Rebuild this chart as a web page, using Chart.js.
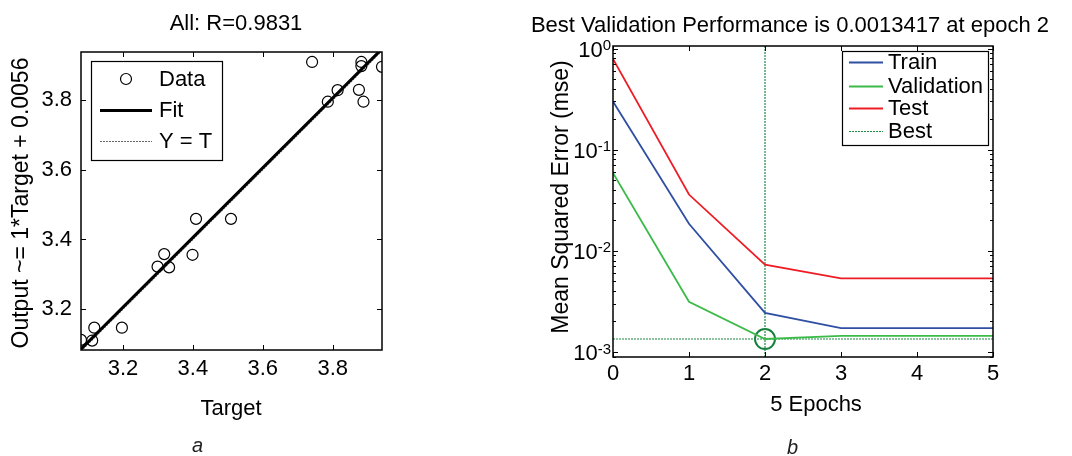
<!DOCTYPE html>
<html>
<head>
<meta charset="utf-8">
<script src="https://cdn.jsdelivr.net/npm/chart.js@4.4.1/dist/chart.umd.min.js"></script>
<style>
  html, body { margin: 0; padding: 0; background: #fff; }
  body { width: 1072px; height: 456px; position: relative; overflow: hidden; font-family: "Liberation Sans", Arial, sans-serif; }
  .panel { position: absolute; top: 0; height: 456px; }
  .cap { position: absolute; font-style: italic; font-size: 20px; line-height: 24px; color: #222; }
</style>
</head>
<body>
<div class="panel" style="left:0;width:536px"><canvas id="regChart" width="536" height="456"></canvas></div>
<div class="panel" style="left:516px;width:556px"><canvas id="perfChart" width="556" height="456"></canvas></div>
<div class="cap" style="left:192px;top:433px">a</div>
<div class="cap" style="left:787px;top:435px">b</div>
<script>
// (a) regression: All
const targets = [3.080, 3.112, 3.118, 3.197, 3.299, 3.318, 3.332, 3.399, 3.409, 3.509,
                 3.741, 3.786, 3.814, 3.875, 3.888, 3.882, 3.882, 3.941];
const outputs = [3.112, 3.110, 3.147, 3.147, 3.322, 3.358, 3.320, 3.356, 3.459, 3.459,
                 3.909, 3.795, 3.828, 3.829, 3.795, 3.909, 3.897, 3.895];
const fitTarget = [3.080, 3.941];
const fitOutput = [3.0856, 3.9466];
const identity = [3.080, 3.941];
const regTicks = [3.2, 3.4, 3.6, 3.8];

// (b) performance
const epochs = [0, 1, 2, 3, 4, 5];
const trainPerf = [0.30, 0.0185, 0.00243, 0.00172, 0.00172, 0.00172];
const validPerf = [0.059, 0.00313, 0.0013417, 0.00144, 0.00144, 0.00144];
const testPerf = [0.79, 0.036, 0.0073, 0.00535, 0.00535, 0.00535];
const bestEpoch = 2;
const bestPerf = 0.0013417;
const perfTicks = [0.001, 0.01, 0.1, 1];
const perfMin = 0.000891;
const perfMax = 1.06;

const FONT = '"Liberation Sans", Arial, sans-serif';

function pts(xs, ys) {
  return xs.map((x, i) => ({ x: x, y: ys[i] }));
}

function drawLegend(ctx, chart, lg) {
  ctx.fillStyle = '#fff';
  ctx.fillRect(lg.box[0], lg.box[1], lg.box[2], lg.box[3]);
  ctx.lineWidth = 1.2;
  ctx.strokeStyle = '#000';
  ctx.strokeRect(lg.box[0] + 0.5, lg.box[1] + 0.5, lg.box[2], lg.box[3]);
  ctx.font = '22px ' + FONT;
  ctx.textAlign = 'left';
  ctx.textBaseline = 'middle';
  lg.items.forEach((idx, i) => {
    const ds = chart.data.datasets[idx];
    const y = lg.rows[i];
    ctx.save();
    ctx.beginPath();
    ctx.lineWidth = ds.borderWidth;
    ctx.strokeStyle = ds.borderColor;
    if (ds.showLine === false) {
      ctx.arc((lg.lineX[0] + lg.lineX[1]) / 2, y, ds.pointRadius, 0, Math.PI * 2);
    } else {
      ctx.setLineDash(ds.borderDash || []);
      ctx.moveTo(lg.lineX[0], y + 0.5);
      ctx.lineTo(lg.lineX[1], y + 0.5);
    }
    ctx.stroke();
    ctx.restore();
    ctx.fillStyle = '#000';
    ctx.fillText(ds.label, lg.textX, y + 1);
  });
}

const matlabFrame = {
  id: 'matlabFrame',
  afterDraw(chart, args, opts) {
    const ctx = chart.ctx;
    const a = chart.chartArea;
    const xs = chart.scales.x, ys = chart.scales.y;
    ctx.save();
    ctx.strokeStyle = '#000';
    ctx.lineWidth = 1;
    ctx.beginPath();
    xs.ticks.forEach(t => {
      const px = Math.round(xs.getPixelForValue(t.value)) + 0.5;
      ctx.moveTo(px, a.bottom); ctx.lineTo(px, a.bottom - opts.tickLen);
      ctx.moveTo(px, a.top); ctx.lineTo(px, a.top + opts.tickLen);
    });
    ys.ticks.forEach(t => {
      const py = Math.round(ys.getPixelForValue(t.value)) + 0.5;
      ctx.moveTo(a.left, py); ctx.lineTo(a.left + opts.tickLen, py);
      ctx.moveTo(a.right, py); ctx.lineTo(a.right - opts.tickLen, py);
    });
    if (opts.logLabels) {
      // minor ticks 2..9 per decade
      for (let d = -4; d <= 0; d++) {
        for (let k = 2; k <= 9; k++) {
          const v = k * Math.pow(10, d);
          if (v < ys.min || v > ys.max) continue;
          const py = Math.round(ys.getPixelForValue(v)) + 0.5;
          ctx.moveTo(a.left, py); ctx.lineTo(a.left + 3, py);
          ctx.moveTo(a.right, py); ctx.lineTo(a.right - 3, py);
        }
      }
    }
    ctx.stroke();
    ctx.lineWidth = 1.5;
    ctx.strokeRect(a.left, a.top, a.right - a.left, a.bottom - a.top);

    ctx.fillStyle = '#000';
    ctx.textAlign = 'center';
    ctx.textBaseline = 'middle';
    ctx.font = '22px ' + FONT;
    ctx.fillText(opts.title, opts.titlePos[0], opts.titlePos[1]);
    ctx.fillText(opts.xLabel, opts.xLabelPos[0], opts.xLabelPos[1]);
    ctx.save();
    ctx.translate(opts.yLabelPos[0], opts.yLabelPos[1]);
    ctx.rotate(-Math.PI / 2);
    ctx.font = opts.yLabelSize + 'px ' + FONT;
    ctx.fillText(opts.yLabel, 0, 0);
    ctx.restore();

    if (opts.logLabels) {
      ys.ticks.forEach(t => {
        const exp = String(Math.round(Math.log10(t.value)));
        const py = ys.getPixelForValue(t.value);
        ctx.textAlign = 'right';
        ctx.textBaseline = 'top';
        ctx.font = '15px ' + FONT;
        const supW = ctx.measureText(exp).width;
        ctx.fillText(exp, a.left - 2, py - 10);
        ctx.font = '22px ' + FONT;
        ctx.textBaseline = 'middle';
        ctx.fillText('10', a.left - 2 - supW, py + 2);
      });
    }
    drawLegend(ctx, chart, opts.legend);
    ctx.restore();
  }
};

function fixedTicks(list) {
  return scale => { scale.ticks = list.map(v => ({ value: v })); };
}

const tickFont = { size: 22, family: FONT };

new Chart(document.getElementById('regChart'), {
  type: 'scatter',
  data: {
    datasets: [
      {
        label: 'Data',
        data: pts(targets, outputs),
        showLine: false,
        pointRadius: 5.5,
        pointBorderWidth: 1.2,
        borderWidth: 1.2,
        borderColor: '#000',
        pointBackgroundColor: 'rgba(0,0,0,0)',
      },
      {
        label: 'Fit',
        data: pts(fitTarget, fitOutput),
        showLine: true,
        pointRadius: 0,
        borderWidth: 3,
        borderColor: '#000',
      },
      {
        label: 'Y = T',
        data: pts(identity, identity),
        showLine: true,
        pointRadius: 0,
        borderWidth: 1.2,
        borderColor: '#666',
        borderDash: [2, 1],
      },
    ],
  },
  options: {
    responsive: false,
    animation: false,
    devicePixelRatio: 1,
    layout: { padding: { left: 0, top: 52, right: 154, bottom: 0 } },
    scales: {
      x: {
        type: 'linear',
        min: 3.08,
        max: 3.941,
        afterBuildTicks: fixedTicks(regTicks),
        afterFit: s => { s.height = 106; },
        grid: { display: false, drawTicks: false },
        border: { display: false },
        ticks: { font: tickFont, color: '#000', padding: 6, maxRotation: 0, autoSkip: false },
      },
      y: {
        type: 'linear',
        min: 3.083,
        max: 3.9375,
        afterBuildTicks: fixedTicks(regTicks),
        afterFit: s => { s.width = 81; },
        grid: { display: false, drawTicks: false },
        border: { display: false },
        ticks: { font: tickFont, color: '#000', padding: 9, autoSkip: false },
      },
    },
    plugins: {
      legend: { display: false },
      tooltip: { enabled: false },
      matlabFrame: {
        tickLen: 5,
        title: 'All: R=0.9831',
        titlePos: [236, 24],
        xLabel: 'Target',
        xLabelPos: [231, 409],
        yLabel: 'Output ~= 1*Target + 0.0056',
        yLabelPos: [22, 203],
        yLabelSize: 23,
        logLabels: false,
        legend: { box: [91, 61, 131, 99], lineX: [100, 152], textX: 159, rows: [79, 110, 141], items: [0, 1, 2] },
      },
    },
  },
  plugins: [matlabFrame],
});

new Chart(document.getElementById('perfChart'), {
  type: 'scatter',
  data: {
    datasets: [
      { label: 'Train', data: pts(epochs, trainPerf), showLine: true, pointRadius: 0, borderWidth: 1.8, borderColor: '#2f4fa3' },
      { label: 'Validation', data: pts(epochs, validPerf), showLine: true, pointRadius: 0, borderWidth: 1.8, borderColor: '#3dbb4a' },
      { label: 'Test', data: pts(epochs, testPerf), showLine: true, pointRadius: 0, borderWidth: 1.8, borderColor: '#ee1c25' },
      {
        label: 'Best',
        data: [{ x: epochs[0], y: bestPerf }, { x: epochs[epochs.length - 1], y: bestPerf }],
        showLine: true, pointRadius: 0, borderWidth: 1.2, borderColor: '#1e8a46', borderDash: [2, 1],
      },
      {
        label: 'Best epoch',
        data: [{ x: bestEpoch, y: perfMin }, { x: bestEpoch, y: perfMax }],
        showLine: true, pointRadius: 0, borderWidth: 1.2, borderColor: '#1e8a46', borderDash: [2, 1],
      },
      {
        label: 'Best point',
        data: [{ x: bestEpoch, y: bestPerf }],
        showLine: false, pointRadius: 10, pointBorderWidth: 2,
        borderColor: '#17803d', pointBackgroundColor: 'rgba(0,0,0,0)',
      },
    ],
  },
  options: {
    responsive: false,
    animation: false,
    devicePixelRatio: 1,
    layout: { padding: { left: 0, top: 46, right: 79, bottom: 0 } },
    scales: {
      x: {
        type: 'linear',
        min: 0,
        max: 5,
        afterBuildTicks: fixedTicks(epochs),
        afterFit: s => { s.height = 99; },
        grid: { display: false, drawTicks: false },
        border: { display: false },
        ticks: { font: tickFont, color: '#000', padding: 4, maxRotation: 0, autoSkip: false },
      },
      y: {
        type: 'logarithmic',
        min: perfMin,
        max: perfMax,
        afterBuildTicks: fixedTicks(perfTicks),
        afterFit: s => { s.width = 97; },
        grid: { display: false, drawTicks: false },
        border: { display: false },
        ticks: { display: false },
      },
    },
    plugins: {
      legend: { display: false },
      tooltip: { enabled: false },
      matlabFrame: {
        tickLen: 5,
        title: 'Best Validation Performance is 0.0013417 at epoch 2',
        titlePos: [274, 26],
        xLabel: '5 Epochs',
        xLabelPos: [300, 405],
        yLabel: 'Mean Squared Error (mse)',
        yLabelPos: [46, 197],
        yLabelSize: 23,
        logLabels: true,
        legend: { box: [326, 51, 146, 94], lineX: [333, 367], textX: 372, rows: [62, 86, 108, 131], items: [0, 1, 2, 3] },
      },
    },
  },
  plugins: [matlabFrame],
});
</script>
</body>
</html>
